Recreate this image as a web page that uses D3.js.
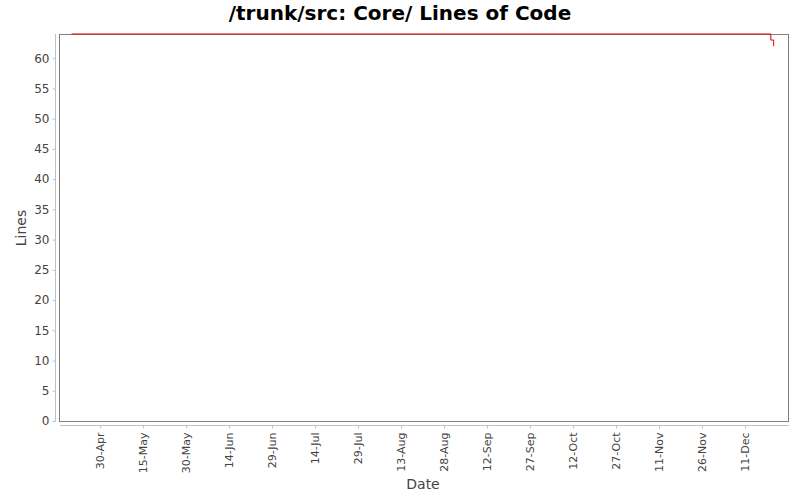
<!DOCTYPE html>
<html>
<head>
<meta charset="utf-8">
<script src="https://cdn.jsdelivr.net/npm/d3@7"></script>
<style>
body { margin: 0; background: #fff; }
text { font-family: "DejaVu Sans", sans-serif; }
</style>
</head>
<body>
<svg id="chart" width="800" height="500"></svg>
<script>
// revision dates and lines of code
var dates = ["2007-04-20", "2007-12-20", "2007-12-21"];
var lines = [64, 63, 62];
var tickDates = ["2007-04-30", "2007-05-15", "2007-05-30", "2007-06-14", "2007-06-29", "2007-07-14",
    "2007-07-29", "2007-08-13", "2007-08-28", "2007-09-12", "2007-09-27", "2007-10-12",
    "2007-10-27", "2007-11-11", "2007-11-26", "2007-12-11"];
var yTicks = [0, 5, 10, 15, 20, 25, 30, 35, 40, 45, 50, 55, 60];

var parse = d3.timeParse("%Y-%m-%d");
var data = dates.map(function(d, i) { return {date: parse(d), v: lines[i]}; });

var svg = d3.select("#chart");
var pLeft = 60, pRight = 788, pTop = 34, pBottom = 421; //plot area edges

var x = d3.scaleTime()
    .domain([parse("2007-04-16"), parse("2007-12-26")])
    .range([pLeft, pRight]);
var y = d3.scaleLinear().domain([0, 64]).range([pBottom, pTop]);

//title
svg.append("text")
    .attr("x", 400).attr("y", 20)
    .attr("text-anchor", "middle")
    .style("font-size", "20px").style("font-weight", "bold")
    .text("/trunk/src: Core/ Lines of Code");

//plot area
svg.append("rect")
    .attr("x", pLeft - 0.5).attr("y", pTop + 0.5)
    .attr("width", pRight - pLeft + 1).attr("height", pBottom - pTop)
    .attr("fill", "#fff").attr("stroke", "#808080");

//y axis, offset from plot
var yAxis = svg.append("g")
    .attr("transform", "translate(55.5,0)")
    .call(d3.axisLeft(y).tickValues(yTicks).tickSize(3).tickPadding(3));
yAxis.select(".domain").attr("stroke", "#c0c0c0").attr("d", "M0," + pTop + "V" + (pBottom + 0.5));
yAxis.selectAll(".tick line").attr("stroke", "#c0c0c0");
yAxis.selectAll("text").attr("fill", "#444").style("font-size", "12px").style("font-family", "DejaVu Sans");

//x axis
var xAxis = svg.append("g")
    .attr("transform", "translate(0,425.5)")
    .call(d3.axisBottom(x).tickValues(tickDates.map(parse)).tickFormat(d3.timeFormat("%-d-%b")).tickSize(3));
xAxis.select(".domain").attr("stroke", "#c0c0c0").attr("d", "M" + pLeft + ",0H" + (pRight + 1));
xAxis.selectAll(".tick line").attr("stroke", "#c0c0c0");
xAxis.selectAll("text")
    .attr("fill", "#444").style("font-size", "11px").style("font-family", "DejaVu Sans")
    .attr("text-anchor", "end")
    .attr("transform", "rotate(-90)")
    .attr("x", -7).attr("y", 0).attr("dy", "0.35em");

//axis labels
svg.append("text")
    .attr("x", 423).attr("y", 489)
    .attr("text-anchor", "middle").attr("fill", "#444")
    .style("font-size", "14px")
    .text("Date");
svg.append("text")
    .attr("transform", "translate(26,228) rotate(-90)")
    .attr("text-anchor", "middle").attr("fill", "#444")
    .style("font-size", "14px")
    .text("Lines");

//step line
var line = d3.line()
    .x(function(d) { return x(d.date); })
    .y(function(d) { return y(d.v); })
    .curve(d3.curveStepAfter);
svg.append("path")
    .datum(data)
    .attr("fill", "none")
    .attr("stroke", "#e00000")
    .attr("stroke-width", 1)
    .attr("d", line);
</script>
</body>
</html>
